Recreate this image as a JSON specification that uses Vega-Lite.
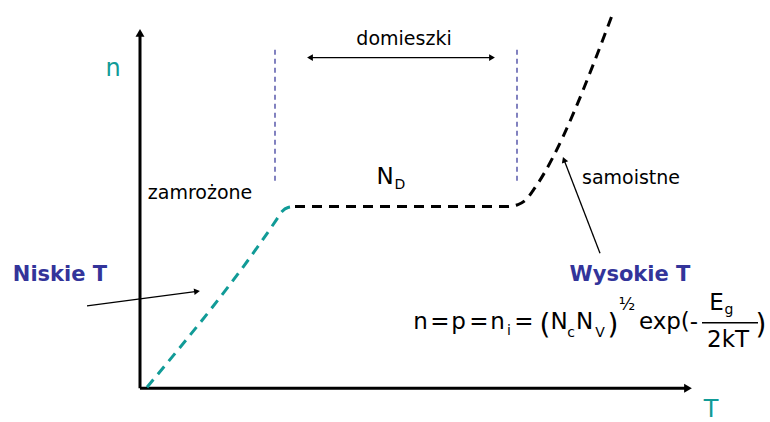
{
  "$schema": "https://vega.github.io/schema/vega-lite/v6.json",
  "width": 770,
  "height": 422,
  "padding": 0,
  "autosize": {"type": "fit", "contains": "padding"},
  "background": "white",
  "config": {"view": {"stroke": null}, "text": {"font": "DejaVu Sans"}},
  "datasets": {
    "axes": [
      {"x": 140, "y": 31, "x2": 140, "y2": 386},
      {"x": 140, "y": 31, "x2": 685, "y2": 31}
    ],
    "axisHeads": [
      {"x": 140, "y": 389, "a": 0},
      {"x": 688, "y": 31, "a": 90}
    ],
    "low": [
      {"x": 147, "y": 32, "i": 1},
      {"x": 276, "y": 200, "i": 2},
      {"x": 282, "y": 209, "i": 3},
      {"x": 288, "y": 213, "i": 4},
      {"x": 295, "y": 214, "i": 5}
    ],
    "high": [
      {"x": 295, "y": 214, "i": 1},
      {"x": 507, "y": 214, "i": 2},
      {"x": 518, "y": 216, "i": 3},
      {"x": 527, "y": 222, "i": 4},
      {"x": 533, "y": 230, "i": 5},
      {"x": 613, "y": 409, "i": 6}
    ],
    "guides": [
      {"x": 275, "y": 240, "x2": 275, "y2": 376},
      {"x": 517, "y": 240, "x2": 517, "y2": 376}
    ],
    "arrows": [
      {"x": 309, "y": 364, "x2": 493, "y2": 364},
      {"x": 87, "y": 114, "x2": 197, "y2": 128.6},
      {"x": 600, "y": 167, "x2": 564, "y2": 261}
    ],
    "heads": [
      {"x": 310, "y": 364, "a": 270},
      {"x": 492, "y": 364, "a": 90},
      {"x": 197, "y": 128.6, "a": 82},
      {"x": 564, "y": 261.2, "a": 339}
    ],
    "fraction": [
      {"x": 702, "y": 97, "x2": 758, "y2": 97}
    ],
    "tealText": [
      {"x": 113, "y": 345, "label": "n"},
      {"x": 711, "y": 2, "label": "T"}
    ],
    "blackText": [
      {"x": 404, "y": 377, "label": "domieszki"},
      {"x": 200, "y": 222, "label": "zamrożone"},
      {"x": 631, "y": 237, "label": "samoistne"}
    ],
    "blueText": [
      {"x": 60, "y": 139, "label": "Niskie T"},
      {"x": 630, "y": 139, "label": "Wysokie T"}
    ],
    "mainText": [
      {"x": 385, "y": 237, "label": "N"},
      {"x": 420.5, "y": 91, "label": "n"},
      {"x": 440, "y": 91, "label": "="},
      {"x": 458.5, "y": 91, "label": "p"},
      {"x": 479, "y": 91, "label": "="},
      {"x": 497.5, "y": 91, "label": "n"},
      {"x": 524, "y": 91, "label": "="},
      {"x": 559, "y": 91, "label": "N"},
      {"x": 584.5, "y": 91, "label": "N"},
      {"x": 668.5, "y": 91, "label": "exp(-"},
      {"x": 716.5, "y": 110, "label": "E"},
      {"x": 728, "y": 73, "label": "2kT"}
    ],
    "subText": [
      {"x": 400, "y": 232, "label": "D"},
      {"x": 509, "y": 85, "label": "i"},
      {"x": 571, "y": 83, "label": "c"},
      {"x": 600, "y": 83, "label": "V"},
      {"x": 729, "y": 106, "label": "g"}
    ],
    "parens": [
      {"x": 545, "y": 86, "label": "("},
      {"x": 613, "y": 86, "label": ")"},
      {"x": 761, "y": 86, "label": ")"}
    ],
    "power": [
      {"x": 627, "y": 110, "label": "½"}
    ]
  },
  "layer": [
    {
      "data": {"name": "axes"},
      "mark": {"type": "rule", "color": "black", "strokeWidth": 3},
      "encoding": {
        "x": {"field": "x", "type": "quantitative", "scale": {"domain": [0, 770], "nice": false, "zero": false}, "axis": null},
        "y": {"field": "y", "type": "quantitative", "scale": {"domain": [0, 422], "nice": false, "zero": false}, "axis": null},
        "x2": {"field": "x2"},
        "y2": {"field": "y2"}
      }
    },
    {
      "data": {"name": "axisHeads"},
      "mark": {"type": "point", "shape": "triangle-up", "filled": true, "color": "black", "opacity": 1, "size": 80},
      "encoding": {
        "x": {"field": "x", "type": "quantitative"},
        "y": {"field": "y", "type": "quantitative"},
        "angle": {"field": "a", "type": "quantitative", "scale": null}
      }
    },
    {
      "data": {"name": "guides"},
      "mark": {"type": "rule", "color": "#2f2f96", "strokeWidth": 1.2, "strokeDash": [5, 4]},
      "encoding": {
        "x": {"field": "x", "type": "quantitative"},
        "y": {"field": "y", "type": "quantitative"},
        "x2": {"field": "x2"},
        "y2": {"field": "y2"}
      }
    },
    {
      "data": {"name": "low"},
      "mark": {"type": "line", "color": "#119b97", "strokeWidth": 3, "strokeDash": [10, 7], "interpolate": "monotone"},
      "encoding": {
        "x": {"field": "x", "type": "quantitative"},
        "y": {"field": "y", "type": "quantitative"},
        "order": {"field": "i"}
      }
    },
    {
      "data": {"name": "high"},
      "mark": {"type": "line", "color": "black", "strokeWidth": 3, "strokeDash": [10, 7], "interpolate": "monotone"},
      "encoding": {
        "x": {"field": "x", "type": "quantitative"},
        "y": {"field": "y", "type": "quantitative"},
        "order": {"field": "i"}
      }
    },
    {
      "data": {"name": "arrows"},
      "mark": {"type": "rule", "color": "black", "strokeWidth": 1.3},
      "encoding": {
        "x": {"field": "x", "type": "quantitative"},
        "y": {"field": "y", "type": "quantitative"},
        "x2": {"field": "x2"},
        "y2": {"field": "y2"}
      }
    },
    {
      "data": {"name": "heads"},
      "mark": {"type": "point", "shape": "triangle-up", "filled": true, "color": "black", "opacity": 1, "size": 45},
      "encoding": {
        "x": {"field": "x", "type": "quantitative"},
        "y": {"field": "y", "type": "quantitative"},
        "angle": {"field": "a", "type": "quantitative", "scale": null}
      }
    },
    {
      "data": {"name": "fraction"},
      "mark": {"type": "rule", "color": "black", "strokeWidth": 1.5},
      "encoding": {
        "x": {"field": "x", "type": "quantitative"},
        "y": {"field": "y", "type": "quantitative"},
        "x2": {"field": "x2"},
        "y2": {"field": "y2"}
      }
    },
    {
      "data": {"name": "tealText"},
      "mark": {"type": "text", "color": "#119b97", "fontSize": 24, "align": "center", "baseline": "alphabetic"},
      "encoding": {
        "x": {"field": "x", "type": "quantitative"},
        "y": {"field": "y", "type": "quantitative"},
        "text": {"field": "label"}
      }
    },
    {
      "data": {"name": "blackText"},
      "mark": {"type": "text", "color": "black", "fontSize": 19, "align": "center", "baseline": "alphabetic"},
      "encoding": {
        "x": {"field": "x", "type": "quantitative"},
        "y": {"field": "y", "type": "quantitative"},
        "text": {"field": "label"}
      }
    },
    {
      "data": {"name": "blueText"},
      "mark": {"type": "text", "color": "#33349a", "fontSize": 21, "fontWeight": "bold", "align": "center", "baseline": "alphabetic"},
      "encoding": {
        "x": {"field": "x", "type": "quantitative"},
        "y": {"field": "y", "type": "quantitative"},
        "text": {"field": "label"}
      }
    },
    {
      "data": {"name": "mainText"},
      "mark": {"type": "text", "color": "black", "fontSize": 23, "align": "center", "baseline": "alphabetic"},
      "encoding": {
        "x": {"field": "x", "type": "quantitative"},
        "y": {"field": "y", "type": "quantitative"},
        "text": {"field": "label"}
      }
    },
    {
      "data": {"name": "subText"},
      "mark": {"type": "text", "color": "black", "fontSize": 14, "align": "center", "baseline": "alphabetic"},
      "encoding": {
        "x": {"field": "x", "type": "quantitative"},
        "y": {"field": "y", "type": "quantitative"},
        "text": {"field": "label"}
      }
    },
    {
      "data": {"name": "parens"},
      "mark": {"type": "text", "color": "black", "fontSize": 28, "align": "center", "baseline": "alphabetic"},
      "encoding": {
        "x": {"field": "x", "type": "quantitative"},
        "y": {"field": "y", "type": "quantitative"},
        "text": {"field": "label"}
      }
    },
    {
      "data": {"name": "power"},
      "mark": {"type": "text", "color": "black", "fontSize": 17, "align": "center", "baseline": "alphabetic"},
      "encoding": {
        "x": {"field": "x", "type": "quantitative"},
        "y": {"field": "y", "type": "quantitative"},
        "text": {"field": "label"}
      }
    }
  ]
}
